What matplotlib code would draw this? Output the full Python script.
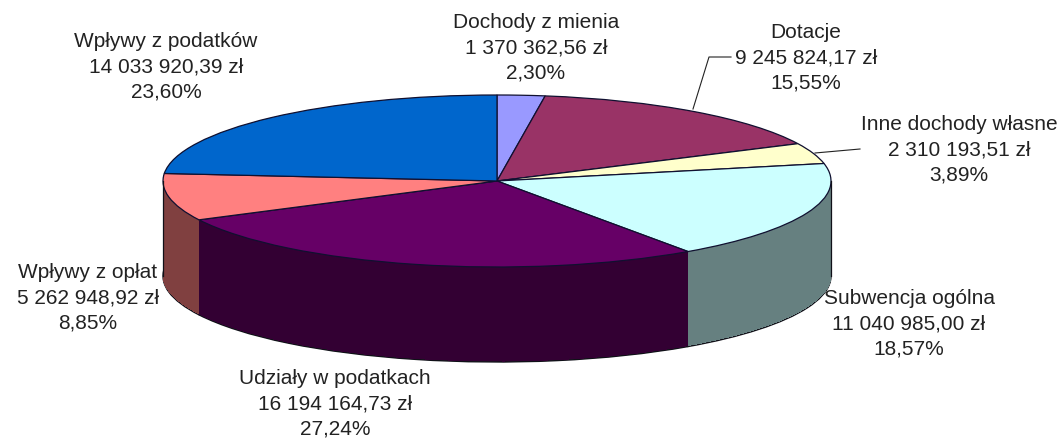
import matplotlib
matplotlib.use("Agg")
import matplotlib.pyplot as plt
from matplotlib.colors import to_rgb
from matplotlib.lines import Line2D

plt.rcParams['font.family'] = ['Liberation Sans', 'DejaVu Sans']

categories = ["Dochody z mienia", "Dotacje", "Inne dochody własne", "Subwencja ogólna",
              "Udziały w podatkach", "Wpływy z opłat", "Wpływy z podatków"]
values = [1370362.56, 9245824.17, 2310193.51, 11040985.00,
          16194164.73, 5262948.92, 14033920.39]
amount_labels = ["1 370 362,56 zł", "9 245 824,17 zł", "2 310 193,51 zł", "11 040 985,00 zł",
                 "16 194 164,73 zł", "5 262 948,92 zł", "14 033 920,39 zł"]
percent_labels = ["2,30%", "15,55%", "3,89%", "18,57%", "27,24%", "8,85%", "23,60%"]
colors = ["#9999FF", "#993366", "#FFFFCC", "#CCFFFF", "#660066", "#FF8080", "#0066CC"]

W, H = 1059, 441
CX, CY, RX, RY, DEPTH = 497, 181, 334, 86, 95

fig = plt.figure(figsize=(W / 100, H / 100), dpi=100, facecolor="white")
ax = fig.add_axes([0, 0, 1, 1])

dark = [tuple(c * 0.5 for c in to_rgb(col)) for col in colors]

# side wall: stacked layers in darker tones, outlined base first
ax.pie(values, colors=dark, startangle=90, counterclock=False, center=(0, -DEPTH / RY),
       wedgeprops=dict(edgecolor="#101018", linewidth=1.0))
for d in range(DEPTH - 1, 0, -1):
    ax.pie(values, colors=dark, startangle=90, counterclock=False, center=(0, -d / RY),
           wedgeprops=dict(edgecolor=None, linewidth=0, antialiased=False))
# top face
ax.pie(values, colors=colors, startangle=90, counterclock=False, center=(0, 0),
       wedgeprops=dict(edgecolor="#101030", linewidth=0.9))

ax.set_aspect("auto")
ax.set_xlim(-CX / RX, (W - CX) / RX)
ax.set_ylim(-(H - CY) / RY, CY / RY)
ax.axis("off")

# wall silhouette at the extremes
for sx in (-1, 1):
    ax.plot([sx, sx], [0, -DEPTH / RY], color="#101018", lw=0.9, zorder=20)

def fx(x):
    return x / W

def fy(y):
    return 1 - y / H

label_pos = [(536, 48), (806, 58), (959, 150), (909, 324), (335, 404), (88, 298), (166, 67)]
for name, amount, pct, (x, y) in zip(categories, amount_labels, percent_labels, label_pos):
    fig.text(fx(x), fy(y), f"{name}\n{amount}\n{pct}", ha="center", va="center",
             fontsize=15, color="#222222", linespacing=1.42)

leaders = [[(693, 109), (709, 57), (731, 57)], [(815, 153), (860, 149)]]
for pts in leaders:
    fig.add_artist(Line2D([fx(p[0]) for p in pts], [fy(p[1]) for p in pts],
                          color="#222222", lw=0.8, transform=fig.transFigure))

fig.savefig("out.png", dpi=100, facecolor="white")
